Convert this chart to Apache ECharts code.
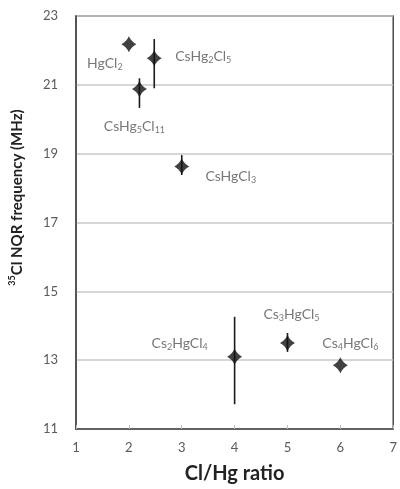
<!DOCTYPE html>
<html>
<head>
<meta charset="utf-8">
<script src="https://cdn.jsdelivr.net/npm/echarts@6/dist/echarts.min.js"></script>
<style>html,body{margin:0;padding:0;background:#fff}#c{width:400px;height:489px}</style>
</head>
<body>
<div id="c"></div>
<script>
// Data
var ratios = [2.0, 2.48, 2.2, 3.0, 4.0, 5.0, 6.0];
var freqs = [22.18, 21.77, 20.88, 18.63, 13.1, 13.5, 12.85];
var errLow = [null, 20.9, 20.33, 18.38, 11.72, 13.24, null];
var errHigh = [null, 22.33, 21.19, 18.96, 14.26, 13.79, null];
var names = ['{m|HgCl}{s|2}', '{m|CsHg}{s|2}{m|Cl}{s|5}', '{m|CsHg}{s|5}{m|Cl}{s|11}', '{m|CsHgCl}{s|3}',
             '{m|Cs}{s|2}{m|HgCl}{s|4}', '{m|Cs}{s|3}{m|HgCl}{s|5}', '{m|Cs}{s|4}{m|HgCl}{s|6}'];
var labelOffsets = [[-24, 19], [49, -2], [-5, 38], [49, 10], [-55, -13], [4, -28], [10, -22]];
var yTicks = [11, 13, 15, 17, 19, 21, 23];
var xTicks = [1, 2, 3, 4, 5, 6, 7];

var FONT = 'Lato, "Open Sans", sans-serif';
var chart = echarts.init(document.getElementById('c'), null, {renderer: 'canvas'});

var scatterData = ratios.map(function (x, i) {
  return {
    value: [x, freqs[i]],
    label: {show: true, position: 'inside', formatter: names[i], offset: labelOffsets[i]}
  };
});
var errData = [];
ratios.forEach(function (x, i) {
  if (errLow[i] != null) errData.push([x, errLow[i], errHigh[i]]);
});

chart.setOption({
  animation: false,
  grid: {left: 76, right: 6, top: 16, bottom: 60, show: true, borderColor: '#4a4a4a', borderWidth: 1.5, backgroundColor: 'transparent'},
  xAxis: {
    type: 'value', min: xTicks[0], max: xTicks[xTicks.length - 1], interval: 1,
    name: 'Cl/Hg ratio', nameLocation: 'middle', nameGap: 35,
    nameTextStyle: {fontFamily: FONT, fontWeight: 'bold', fontSize: 20, color: '#222'},
    axisLine: {show: true, lineStyle: {color: '#4a4a4a', width: 1.5}},
    axisTick: {show: true, inside: true, length: 4, lineStyle: {color: '#bbb'}},
    axisLabel: {fontFamily: FONT, fontSize: 13, color: '#5a5a5a', margin: 12},
    splitLine: {show: false}
  },
  yAxis: {
    type: 'value', min: yTicks[0], max: yTicks[yTicks.length - 1], interval: 2,
    name: '{sup|35}{b|Cl NQR frequency (MHz)}', nameLocation: 'middle', nameGap: 50,
    nameTextStyle: {
      padding: [0, 0, 0, 50],
      rich: {
        sup: {fontFamily: FONT, fontWeight: 'bold', fontSize: 9, color: '#222', verticalAlign: 'top', lineHeight: 18},
        b: {fontFamily: FONT, fontWeight: 'bold', fontSize: 15, color: '#222', lineHeight: 18}
      }
    },
    axisLine: {show: true, lineStyle: {color: '#4a4a4a', width: 1.5}},
    axisTick: {show: false},
    axisLabel: {fontFamily: FONT, fontSize: 13, color: '#5a5a5a', margin: 18},
    splitLine: {show: true, lineStyle: {color: '#c8c8c8', width: 1.5}}
  },
  series: [
    {
      type: 'custom',
      data: errData,
      renderItem: function (params, api) {
        var p1 = api.coord([api.value(0), api.value(1)]);
        var p2 = api.coord([api.value(0), api.value(2)]);
        return {type: 'line', shape: {x1: p1[0], y1: p1[1], x2: p2[0], y2: p2[1]},
                style: {stroke: '#1a1a1a', lineWidth: 1.6}};
      },
      z: 3
    },
    {
      type: 'scatter',
      symbol: 'path://M0,-10 Q3.3,-3.3 10,0 Q3.3,3.3 0,10 Q-3.3,3.3 -10,0 Q-3.3,-3.3 0,-10 Z',
      symbolSize: [15, 16],
      itemStyle: {color: '#111'},
      data: scatterData,
      label: {
        rich: {
          m: {fontFamily: FONT, fontSize: 14, color: '#555', lineHeight: 16},
          s: {fontFamily: FONT, fontSize: 9, color: '#555', lineHeight: 9, verticalAlign: 'bottom'}
        }
      },
      z: 4
    }
  ]
});
</script>
</body>
</html>
